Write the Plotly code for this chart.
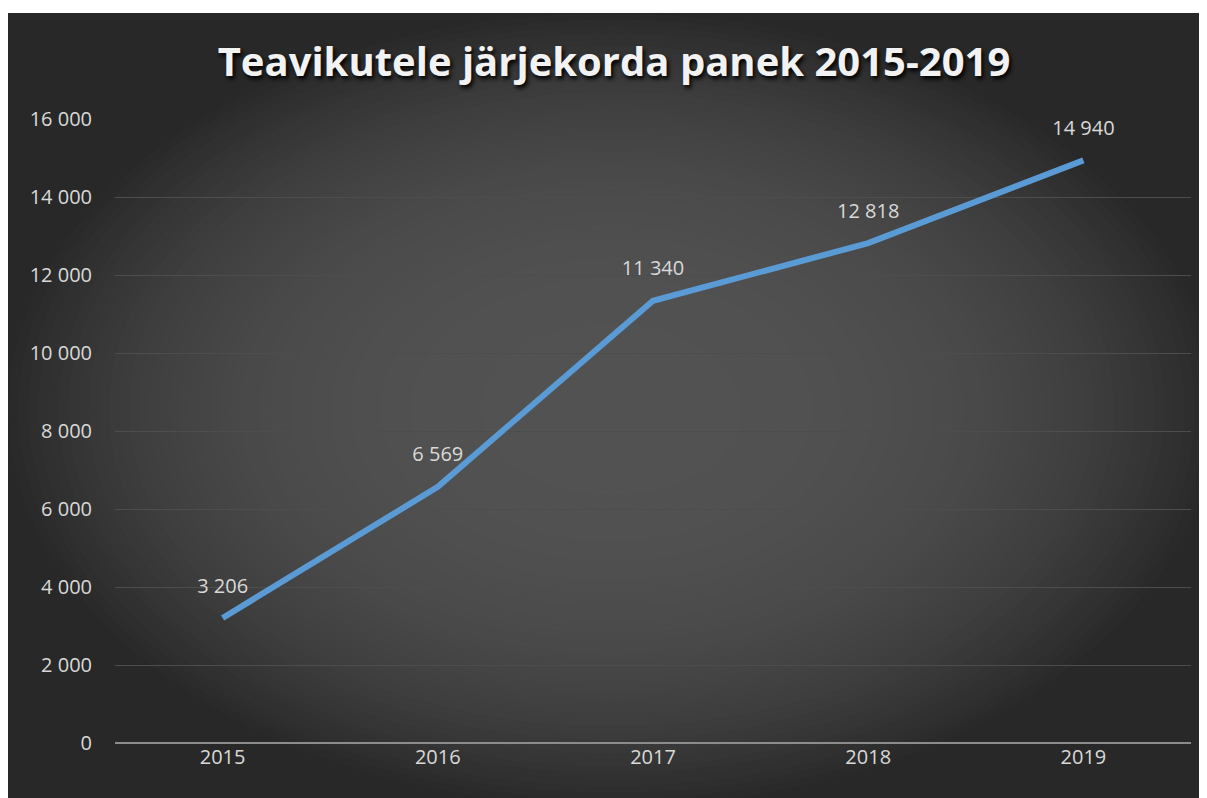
"""Line chart: Teavikutele järjekorda panek 2015-2019."""

import plotly.graph_objects as go

years = ["2015", "2016", "2017", "2018", "2019"]
queued = [3206, 6569, 11340, 12818, 14940]

# the page puts the figure 8px in from the top-left corner
W, H = 1207, 798
L, R, T, B = 107, 24, 111, 63


def px_x(p):
    return (p - L) / (W - L - R)


def px_y(p):
    return (H - B - p) / (H - T - B)


fig = go.Figure()
fig.add_trace(
    go.Scatter(
        x=years,
        y=queued,
        mode="lines+markers+text",
        line=dict(color="#5b9bd5", width=6),
        # invisible markers only push the value labels up off the line
        marker=dict(size=31, color="rgba(0,0,0,0)"),
        texttemplate="%{y:,}",
        textposition="top center",
        textfont=dict(family="Open Sans", size=20, color="#d9d9d9"),
        hoverinfo="skip",
        cliponaxis=False,
    )
)

# dark panel with a soft radial glow
x0, y0 = 0, 5
shapes = [
    dict(type="rect", xref="paper", yref="paper",
         x0=px_x(x0), x1=px_x(W), y0=px_y(y0), y1=px_y(H),
         fillcolor="#282828", line_width=0, layer="below")
]
cx, cy = (x0 + W) / 2, (y0 + H) / 2
rx, ry = (W - x0) / 2, (H - y0) / 2
steps = 60
for i in range(steps):
    f = 1 - i / steps
    c = round(0x52 - (0x52 - 0x2a) * f ** 3)
    shapes.append(dict(
        type="circle", xref="paper", yref="paper",
        x0=px_x(cx - rx * f), x1=px_x(cx + rx * f),
        y0=px_y(cy - ry * f), y1=px_y(cy + ry * f),
        fillcolor=f"rgb({c},{c},{c})", line_width=0, layer="below",
    ))

fig.update_layout(
    width=W,
    height=H,
    margin=dict(l=L, r=R, t=T, b=B),
    paper_bgcolor="white",
    plot_bgcolor="rgba(0,0,0,0)",
    separators=", ",
    showlegend=False,
    shapes=shapes,
    title=dict(
        text="Teavikutele järjekorda panek 2015-2019",
        x=606 / W,
        xanchor="center",
        y=1 - 54 / H,
        yanchor="middle",
        font=dict(family="Open Sans", size=40, color="#f2f2f2",
                  weight="bold", shadow="2px 3px 4px #000000"),
    ),
    xaxis=dict(
        type="category",
        range=[-0.5, 4.5],
        showgrid=False,
        ticks="",
        tickfont=dict(family="Open Sans", size=20, color="#d9d9d9"),
        showline=False,
    ),
    yaxis=dict(
        range=[0, 16000],
        dtick=2000,
        tickformat=",d",
        gridcolor="#4d4d4d",
        gridwidth=1,
        zeroline=True,
        zerolinecolor="#8c8c8c",
        zerolinewidth=2,
        ticks="",
        ticklabelstandoff=22,
        tickfont=dict(family="Open Sans", size=20, color="#d9d9d9"),
    ),
)

fig.write_html("out.html")
